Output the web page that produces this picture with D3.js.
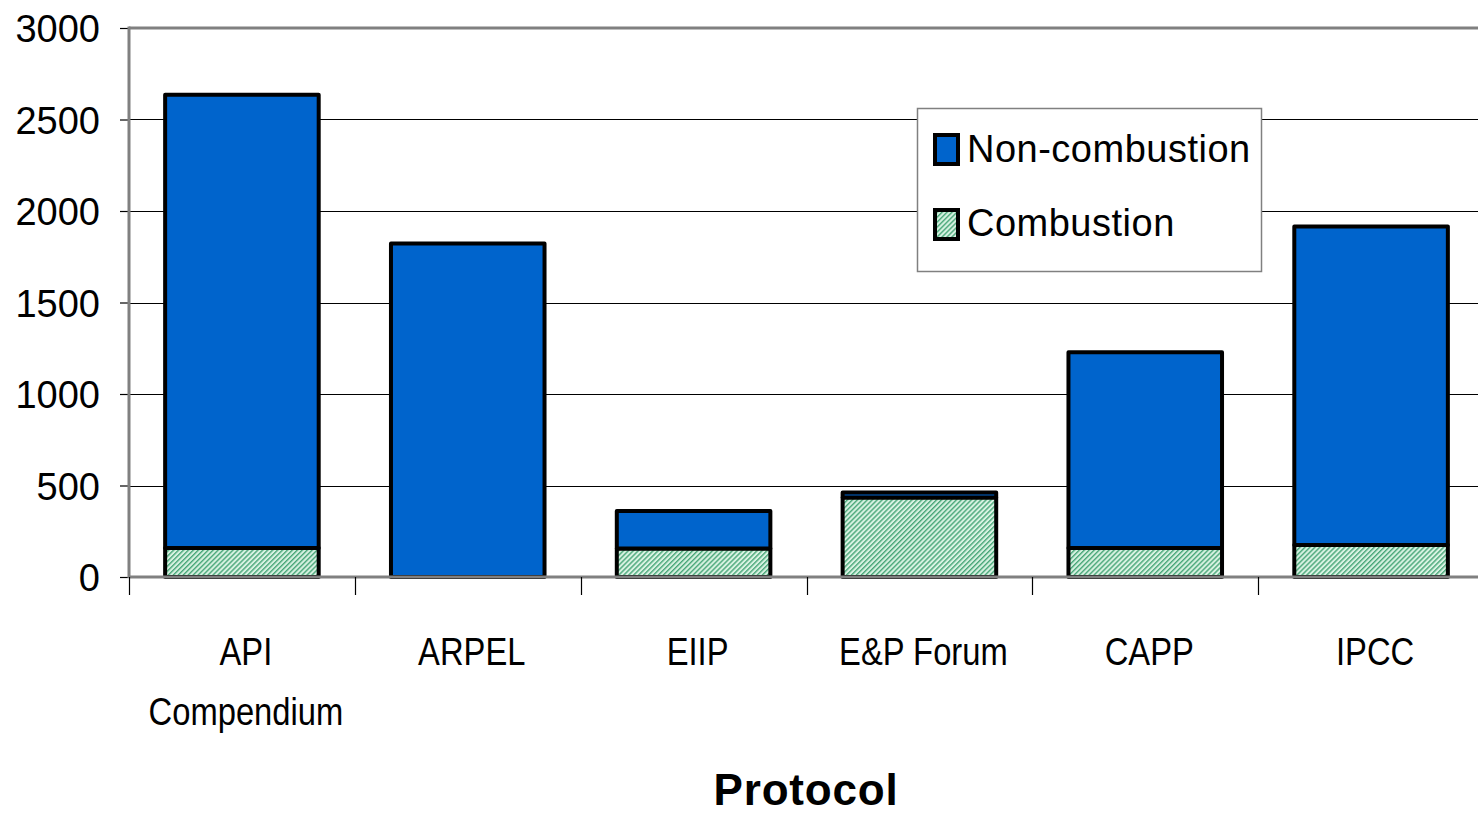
<!DOCTYPE html>
<html>
<head>
<meta charset="utf-8">
<script src="https://cdn.jsdelivr.net/npm/d3@7"></script>
<style>
  html, body { margin: 0; padding: 0; background: #fff; overflow: hidden; }
  svg { display: block; }
  text { font-family: "Liberation Sans", Arial, sans-serif; fill: #000; }
</style>
</head>
<body>
<div id="chart"></div>
<script>
'use strict';

// chart data
const categories = ['API Compendium', 'ARPEL', 'EIIP', 'E&P Forum', 'CAPP', 'IPCC'];
const categoryLines = [['API', 'Compendium'], ['ARPEL'], ['EIIP'], ['E&P Forum'], ['CAPP'], ['IPCC']];
const combustion = [158, 0, 156, 434, 158, 175];
const nonCombustion = [2477, 1822, 204, 28, 1070, 1740];
const seriesNames = ['Non-combustion', 'Combustion'];
const yTicks = [0, 500, 1000, 1500, 2000, 2500, 3000];
const xTitle = 'Protocol';

const width = 1478, height = 819;
const plot = { left: 129, top: 28, right: 1484, bottom: 577 };

const svg = d3.select('#chart')
    .append('svg')
    .attr('width', width)
    .attr('height', height);

// hatch pattern for combustion
const defs = svg.append('defs');
const pat = defs.append('pattern')
    .attr('id', 'hatch')
    .attr('patternUnits', 'userSpaceOnUse')
    .attr('width', 3.5)
    .attr('height', 3.5)
    .attr('patternTransform', 'rotate(45)');
pat.append('rect').attr('width', 3.5).attr('height', 3.5).attr('fill', '#d8f2e2');
pat.append('rect').attr('width', 1.4).attr('height', 3.5).attr('fill', '#48a678');

const x = d3.scaleBand()
    .domain(categories)
    .range([plot.left, plot.right])
    .padding(0);

const y = d3.scaleLinear()
    .domain([0, 3000])
    .range([plot.bottom, plot.top]);

// gridlines
svg.append('g')
    .selectAll('line')
    .data(yTicks.filter(d => d > 0 && d < 3000))
    .join('line')
    .attr('x1', plot.left)
    .attr('x2', plot.right)
    .attr('y1', d => Math.round(y(d)) + 0.5)
    .attr('y2', d => Math.round(y(d)) + 0.5)
    .attr('stroke', '#000')
    .attr('stroke-width', 1);

// plot frame (top border, gray)
svg.append('line')
    .attr('x1', plot.left).attr('x2', plot.right)
    .attr('y1', plot.top).attr('y2', plot.top)
    .attr('stroke', '#808080').attr('stroke-width', 3);

// stacked bars
const barW = x.bandwidth() * 0.68;
const rows = categories.map((c, i) => ({ k: c, comb: combustion[i], non: nonCombustion[i] }));

const bars = svg.append('g');
rows.forEach(d => {
    const bx = x(d.k) + (x.bandwidth() - barW) / 2;
    // combustion segment
    if (d.comb > 0) {
        bars.append('rect')
            .attr('x', bx)
            .attr('y', y(d.comb))
            .attr('width', barW)
            .attr('height', y(0) - y(d.comb))
            .attr('fill', 'url(#hatch)')
            .attr('stroke', '#000')
            .attr('stroke-width', 4)
            .attr('stroke-linejoin', 'round');
    }
    // non-combustion segment
    bars.append('rect')
        .attr('x', bx)
        .attr('y', y(d.comb + d.non))
        .attr('width', barW)
        .attr('height', y(d.comb) - y(d.comb + d.non))
        .attr('fill', '#0064cc')
        .attr('stroke', '#000')
        .attr('stroke-width', 4)
        .attr('stroke-linejoin', 'round');
});

// y axis
const yAxis = svg.append('g')
    .attr('transform', `translate(${plot.left},0)`)
    .call(d3.axisLeft(y).tickValues(yTicks).tickSize(9).tickPadding(20).tickFormat(d3.format('d')));
yAxis.select('.domain').remove();
yAxis.selectAll('.tick line').attr('stroke', '#000').attr('stroke-width', 1.2);
yAxis.selectAll('.tick text')
    .attr('font-size', 38)
    .attr('font-family', '"Liberation Sans", Arial, sans-serif')
    .attr('dy', '0.36em');

// axis lines (gray)
svg.append('line')
    .attr('x1', plot.left).attr('x2', plot.left)
    .attr('y1', plot.top - 1.5).attr('y2', plot.bottom + 1)
    .attr('stroke', '#808080').attr('stroke-width', 3);
svg.append('line')
    .attr('x1', plot.left).attr('x2', plot.right)
    .attr('y1', plot.bottom).attr('y2', plot.bottom)
    .attr('stroke', '#808080').attr('stroke-width', 3);

// x category ticks at band boundaries
const bounds = categories.map(c => x(c)).concat([plot.right]);
svg.append('g')
    .selectAll('line')
    .data(bounds)
    .join('line')
    .attr('x1', d => Math.round(d) + 0.5)
    .attr('x2', d => Math.round(d) + 0.5)
    .attr('y1', plot.bottom)
    .attr('y2', plot.bottom + 18)
    .attr('stroke', '#000')
    .attr('stroke-width', 1.2);

// x category labels (condensed look, like a narrow font)
const labels = svg.append('g')
    .selectAll('g')
    .data(categories)
    .join('g')
    .attr('transform', d => `translate(${x(d) + x.bandwidth() / 2 + 4},665) scale(0.84,1)`);
labels.each(function (d, i) {
    d3.select(this).selectAll('text')
        .data(categoryLines[i])
        .join('text')
        .attr('text-anchor', 'middle')
        .attr('font-size', 39)
        .attr('x', 0)
        .attr('y', (t, j) => j * 60)
        .text(t => t);
});

// x title
svg.append('text')
    .attr('x', 806)
    .attr('y', 805)
    .attr('text-anchor', 'middle')
    .attr('font-size', 44)
    .attr('font-weight', 'bold')
    .attr('letter-spacing', 0.8)
    .text(xTitle);

// legend
const legend = svg.append('g');
legend.append('rect')
    .attr('x', 917.5).attr('y', 108.5)
    .attr('width', 344).attr('height', 163)
    .attr('fill', '#fff')
    .attr('stroke', '#808080')
    .attr('stroke-width', 1.5);

const swatchFill = ['#0064cc', 'url(#hatch)'];
seriesNames.forEach((name, i) => {
    legend.append('rect')
        .attr('x', 935)
        .attr('y', 135 + i * 75)
        .attr('width', 23)
        .attr('height', 29)
        .attr('fill', swatchFill[i])
        .attr('stroke', '#000')
        .attr('stroke-width', 4);
    legend.append('text')
        .attr('x', 967)
        .attr('y', 162 + i * 74)
        .attr('font-size', 38)
        .attr('letter-spacing', 0.5)
        .text(name);
});
</script>
</body>
</html>
